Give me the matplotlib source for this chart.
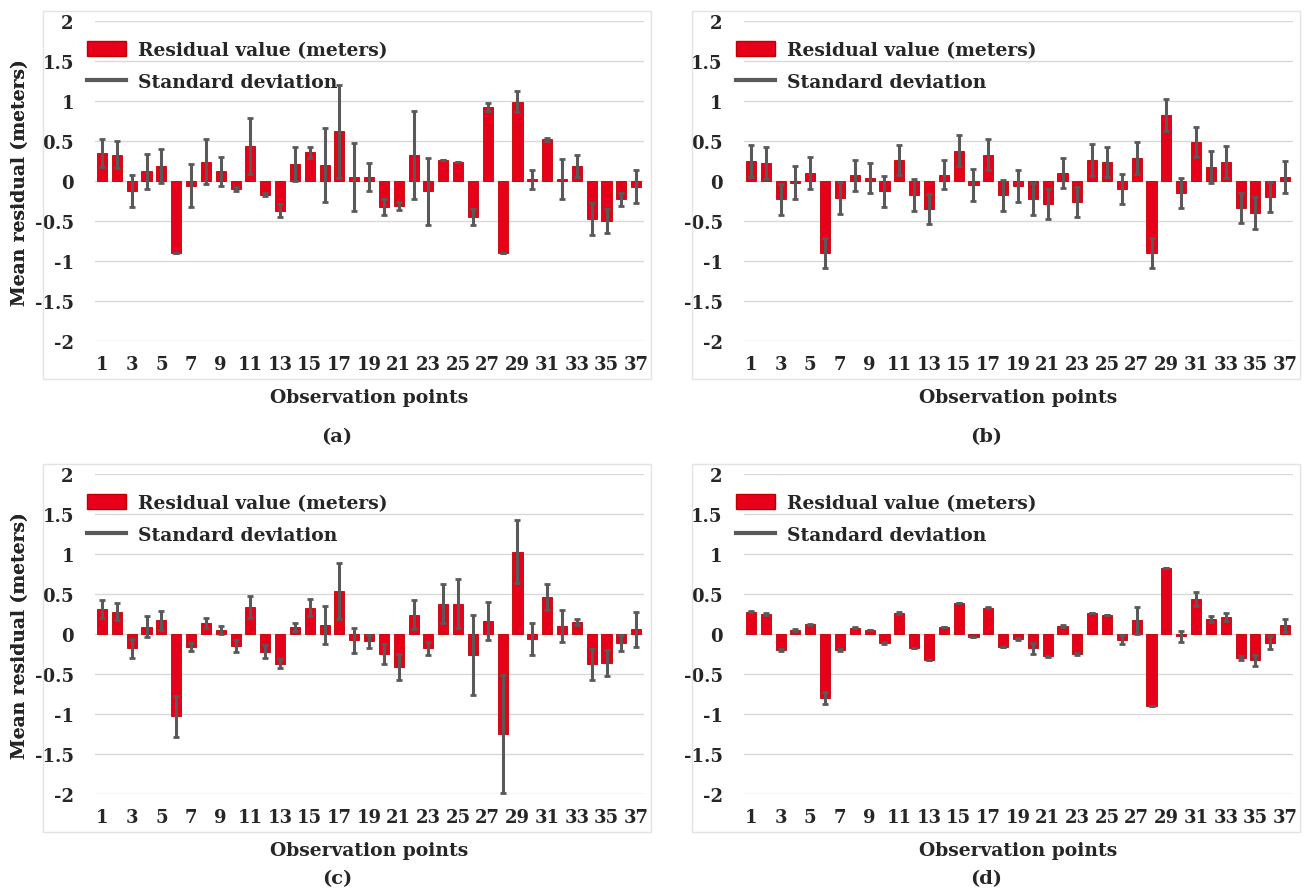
import numpy as np
import matplotlib
matplotlib.use('Agg')
import matplotlib.pyplot as plt
from matplotlib.patches import Rectangle, Patch
from matplotlib.lines import Line2D

points = list(range(1, 38))

# (a)
res_a = [0.35, 0.33, -0.13, 0.12, 0.19, -0.9, -0.06, 0.24, 0.12, -0.1,
         0.44, -0.17, -0.37, 0.21, 0.36, 0.2, 0.62, 0.05, 0.05, -0.33,
         -0.31, 0.33, -0.13, 0.26, 0.24, -0.45, 0.92, -0.9, 0.99, 0.02,
         0.52, 0.03, 0.19, -0.47, -0.5, -0.23, -0.07]
sd_a = [0.17, 0.17, 0.2, 0.22, 0.21, 0.0, 0.27, 0.28, 0.18, 0.02,
        0.35, 0.02, 0.08, 0.21, 0.07, 0.46, 0.58, 0.43, 0.18, 0.1,
        0.05, 0.55, 0.42, 0.0, 0.0, 0.1, 0.05, 0.0, 0.13, 0.12,
        0.02, 0.25, 0.14, 0.2, 0.15, 0.08, 0.21]

# (b)
res_b = [0.25, 0.22, -0.23, -0.02, 0.1, -0.9, -0.21, 0.07, 0.04, -0.13,
         0.26, -0.17, -0.35, 0.08, 0.38, -0.05, 0.33, -0.18, -0.06, -0.23,
         -0.29, 0.1, -0.26, 0.26, 0.24, -0.1, 0.29, -0.9, 0.83, -0.15,
         0.49, 0.17, 0.24, -0.34, -0.4, -0.2, 0.05]
sd_b = [0.2, 0.2, 0.19, 0.21, 0.2, 0.19, 0.2, 0.19, 0.19, 0.19,
        0.19, 0.2, 0.19, 0.18, 0.19, 0.2, 0.19, 0.19, 0.2, 0.2,
        0.19, 0.19, 0.19, 0.2, 0.19, 0.19, 0.2, 0.19, 0.2, 0.19,
        0.19, 0.2, 0.2, 0.19, 0.2, 0.19, 0.2]

# (c)
res_c = [0.31, 0.28, -0.18, 0.09, 0.17, -1.03, -0.16, 0.14, 0.05, -0.15,
         0.34, -0.22, -0.37, 0.09, 0.33, 0.11, 0.54, -0.08, -0.09, -0.25,
         -0.41, 0.24, -0.18, 0.38, 0.38, -0.26, 0.16, -1.25, 1.03, -0.06,
         0.46, 0.1, 0.15, -0.38, -0.36, -0.11, 0.06]
sd_c = [0.11, 0.11, 0.12, 0.13, 0.12, 0.26, 0.05, 0.06, 0.05, 0.08,
        0.14, 0.08, 0.06, 0.05, 0.11, 0.24, 0.35, 0.16, 0.08, 0.13,
        0.16, 0.18, 0.08, 0.24, 0.31, 0.5, 0.24, 0.74, 0.39, 0.2,
        0.16, 0.2, 0.04, 0.19, 0.16, 0.1, 0.22]

# (d)
res_d = [0.28, 0.25, -0.2, 0.05, 0.12, -0.8, -0.2, 0.08, 0.05, -0.11,
         0.26, -0.17, -0.32, 0.09, 0.39, -0.04, 0.33, -0.16, -0.06, -0.18,
         -0.28, 0.1, -0.25, 0.26, 0.24, -0.07, 0.17, -0.9, 0.83, -0.03,
         0.44, 0.19, 0.21, -0.3, -0.33, -0.11, 0.11]
sd_d = [0.01, 0.01, 0.01, 0.01, 0.01, 0.07, 0.01, 0.01, 0.0, 0.01,
        0.01, 0.0, 0.0, 0.0, 0.0, 0.0, 0.01, 0.0, 0.01, 0.07,
        0.01, 0.01, 0.01, 0.0, 0.0, 0.06, 0.17, 0.0, 0.0, 0.07,
        0.09, 0.04, 0.05, 0.02, 0.07, 0.08, 0.08]

panels = [('(a)', res_a, sd_a), ('(b)', res_b, sd_b),
          ('(c)', res_c, sd_c), ('(d)', res_d, sd_d)]

yticks = [-2, -1.5, -1, -0.5, 0, 0.5, 1, 1.5, 2]
ytick_labels = ['-2', '-1.5', '-1', '-0.5', '0', '0.5', '1', '1.5', '2']

plt.rcParams['font.family'] = ['DejaVu Serif']
plt.rcParams['font.weight'] = 'bold'

W, H = 1306, 895
fig = plt.figure(figsize=(W / 100, H / 100), dpi=100)

red = '#e6001a'
gray = '#595959'
txt = '#262626'

# pixel layout (left, top) of each plot area
origins = [(94.6, 22), (743.5, 22), (94.6, 475), (743.5, 475)]
pw, ph = 549, 320

for (lbl, res, sd), (x0, y0) in zip(panels, origins):
    ax = fig.add_axes([x0 / W, 1 - (y0 + ph) / H, pw / W, ph / H])
    ax.bar(points, res, width=0.68, color=red, edgecolor='#c00000',
           linewidth=0.6, zorder=3)
    ax.errorbar(points, res, yerr=sd, fmt='none', ecolor=gray,
                elinewidth=2.2, capsize=2.2, capthick=2, zorder=4)
    ax.set_xlim(0.5, 37.5)
    ax.set_ylim(-2, 2)
    ax.set_yticks(yticks)
    ax.set_yticklabels(ytick_labels)
    ax.set_xticks(points[::2])
    ax.set_xticklabels([str(p) for p in points[::2]])
    ax.tick_params(length=0, labelsize=13, colors=txt)
    ax.tick_params(axis='y', pad=15)
    ax.tick_params(axis='x', pad=10)
    ax.grid(axis='y', color='#d9d9d9', linewidth=1, zorder=0)
    for s in ax.spines.values():
        s.set_visible(False)

    handles = [Patch(facecolor=red, edgecolor='#c00000'),
               Line2D([0], [0], color=gray, linewidth=3)]
    ax.legend(handles, ['Residual value (meters)', 'Standard deviation'],
              loc='upper left', bbox_to_anchor=(-0.045, 0.99), frameon=False,
              fontsize=13.5, handlelength=2.1, handleheight=0.85,
              handletextpad=0.65, labelspacing=0.75,
              labelcolor=txt)

    # chart border
    bx = x0 - 52
    fig.patches.append(Rectangle((bx / W, 1 - (y0 + 358) / H), 608 / W, 368 / H,
                                 transform=fig.transFigure, fill=False,
                                 edgecolor='#e3e3e3', linewidth=1))
    fig.text(20 / W, 1 - (y0 + 161) / H, 'Mean residual (meters)', rotation=90,
             ha='center', va='center', fontsize=13.5, color=txt)
    fig.text((x0 + pw / 2) / W, 1 - (y0 + 376) / H, 'Observation points',
             ha='center', va='center', fontsize=13.5, color=txt)
    fig.text((x0 + pw / 2 - 32) / W, 1 - min(y0 + 415, 879) / H, lbl,
             ha='center', va='center', fontsize=14, color=txt)

fig.savefig('out.png', dpi=100, facecolor='white')
